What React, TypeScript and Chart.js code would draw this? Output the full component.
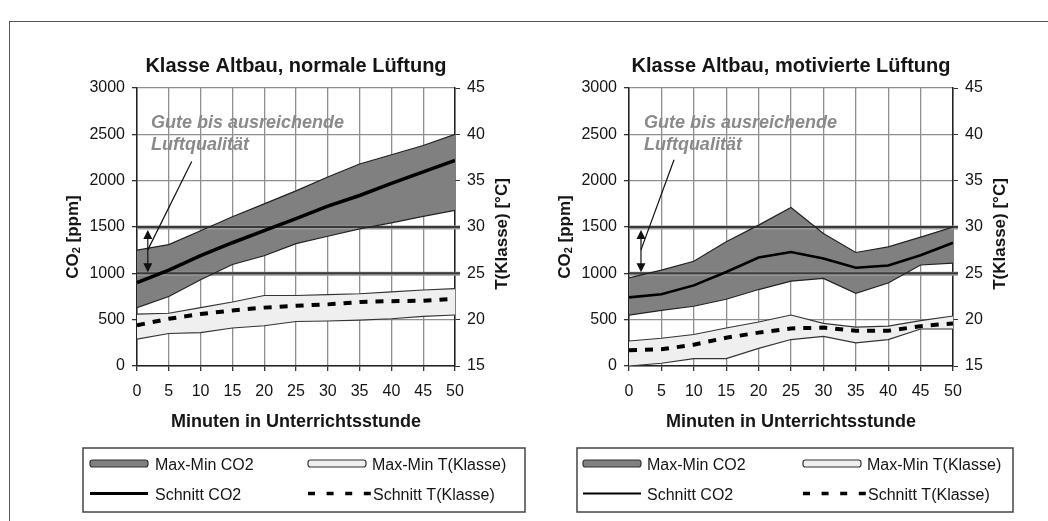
import React, { useEffect, useRef } from "react";
import { Chart, registerables } from "chart.js";

Chart.register(...registerables);

// ---------- data ----------
const minutes = [0, 5, 10, 15, 20, 25, 30, 35, 40, 45, 50];

// Klasse Altbau, normale Lüftung
const co2MaxNormal = [1250, 1310, 1460, 1610, 1750, 1890, 2040, 2180, 2280, 2380, 2500];
const co2MeanNormal = [900, 1035, 1190, 1330, 1460, 1590, 1725, 1840, 1970, 2095, 2220];
const co2MinNormal = [630, 750, 930, 1095, 1190, 1320, 1400, 1480, 1545, 1615, 1680];
const tMaxNormal = [20.6, 20.7, 21.3, 21.9, 22.6, 22.6, 22.7, 22.8, 23.0, 23.2, 23.35];
const tMinNormal = [17.9, 18.5, 18.6, 19.1, 19.35, 19.8, 19.85, 19.95, 20.1, 20.35, 20.5];
const tMeanNormal = [19.4, 20.1, 20.6, 21.0, 21.3, 21.5, 21.65, 21.9, 22.0, 22.05, 22.25];

// Klasse Altbau, motivierte Lüftung
const co2MaxMotiv = [950, 1035, 1130, 1340, 1520, 1710, 1430, 1225, 1285, 1390, 1500];
const co2MeanMotiv = [740, 775, 870, 1015, 1170, 1230, 1160, 1060, 1085, 1195, 1330];
const co2MinMotiv = [550, 600, 645, 720, 825, 915, 945, 785, 895, 1090, 1110];
const tMaxMotiv = [17.7, 18.0, 18.4, 19.1, 19.75, 20.5, 19.6, 19.2, 19.3, 19.9, 20.4];
const tMinMotiv = [15.0, 15.3, 15.8, 15.8, 16.9, 17.85, 18.2, 17.5, 17.85, 19.0, 19.0];
const tMeanMotiv = [16.7, 16.8, 17.3, 18.05, 18.6, 19.05, 19.15, 18.8, 18.8, 19.3, 19.6];

const co2Range = [0, 3000];
const co2Step = 500;
const tRange = [15, 45];
const tStep = 5;
const xRange = [0, 50];
const xStep = 5;
const qualityLimits = [1000, 1500];

const panelTitles = ["Klasse Altbau, normale Lüftung", "Klasse Altbau, motivierte Lüftung"];
const xAxisTitle = "Minuten in Unterrichtsstunde";
const co2AxisTitle = ["CO", "2", " [ppm]"];
const tAxisTitle = "T(Klasse) [°C]";
const noteLines = ["Gute bis ausreichende", "Luftqualität"];
const legendLabels = ["Max-Min CO2", "Max-Min T(Klasse)", "Schnitt CO2", "Schnitt T(Klasse)"];

// ---------- layout / style ----------
const W = 1048;
const H = 521;
const FONT = '"Liberation Sans", Arial, Helvetica, sans-serif';
const TEXT = "#151515";
const DARK_BAND = "#808080";
const LIGHT_BAND = "#efefef";

type PanelCfg = {
  key: string;
  left: number;
  width: number;
  padL: number;
  yW: number;
  y2W: number;
  padR: number;
  title: string;
  co2Max: number[];
  co2Mean: number[];
  co2Min: number[];
  tMax: number[];
  tMin: number[];
  tMean: number[];
  meanWidth: number;
  legendLineWidth: number;
  noteX: number;
  noteY: number[];
  leader: number[];
  arrowX: number;
  co2TitleX: number;
  tTitleX: number;
  legendBox: number[];
  sw1: number;
  tx1: number;
  sw2: number;
  tx2: number;
};

const panels: PanelCfg[] = [
  {
    key: "normal",
    left: 0,
    width: 540,
    padL: 64,
    yW: 73,
    y2W: 60,
    padR: 25,
    title: panelTitles[0],
    co2Max: co2MaxNormal,
    co2Mean: co2MeanNormal,
    co2Min: co2MinNormal,
    tMax: tMaxNormal,
    tMin: tMinNormal,
    tMean: tMeanNormal,
    meanWidth: 3.5,
    legendLineWidth: 3,
    noteX: 2.2,
    noteY: [2565, 2330],
    leader: [8.6, 2206, 1.7, 1253],
    arrowX: 1.7,
    co2TitleX: 73,
    tTitleX: 502,
    legendBox: [83, 448, 525, 512],
    sw1: 90,
    tx1: 155,
    sw2: 308,
    tx2: 372,
  },
  {
    key: "motiv",
    left: 540,
    width: 508,
    padL: 15,
    yW: 74,
    y2W: 60,
    padR: 35,
    title: panelTitles[1],
    co2Max: co2MaxMotiv,
    co2Mean: co2MeanMotiv,
    co2Min: co2MinMotiv,
    tMax: tMaxMotiv,
    tMin: tMinMotiv,
    tMean: tMeanMotiv,
    meanWidth: 2.6,
    legendLineWidth: 2,
    noteX: 2.3,
    noteY: [2565, 2330],
    leader: [6.95, 2225, 1.85, 1253],
    arrowX: 1.85,
    co2TitleX: 565,
    tTitleX: 1000,
    legendBox: [577, 448, 1013, 512],
    sw1: 583,
    tx1: 647,
    sw2: 803,
    tx2: 867,
  },
];

const pts = (ys: number[]) => minutes.map((x, i) => ({ x, y: ys[i] }));

function overlayPlugin(cfg: PanelCfg) {
  return {
    id: "overlay_" + cfg.key,
    beforeDatasetsDraw(chart: any) {
      const { ctx, chartArea: a, scales } = chart;
      const y = scales.y;
      ctx.save();
      for (const v of qualityLimits) {
        const py = y.getPixelForValue(v);
        ctx.strokeStyle = "#9a9a9a";
        ctx.lineWidth = 4;
        ctx.beginPath();
        ctx.moveTo(a.left, py + 0.5);
        ctx.lineTo(a.right + 5, py + 0.5);
        ctx.stroke();
        ctx.strokeStyle = "#3a3a3a";
        ctx.lineWidth = 2;
        ctx.beginPath();
        ctx.moveTo(a.left, py);
        ctx.lineTo(a.right + 5, py);
        ctx.stroke();
      }
      ctx.restore();
    },
    afterDatasetsDraw(chart: any) {
      const { ctx, scales } = chart;
      const x = scales.x;
      const y = scales.y;
      ctx.save();
      // note text
      ctx.font = `italic bold 18px ${FONT}`;
      ctx.fillStyle = "#8a8a8a";
      ctx.textAlign = "left";
      ctx.textBaseline = "alphabetic";
      noteLines.forEach((t, i) => {
        ctx.fillText(t, x.getPixelForValue(cfg.noteX), y.getPixelForValue(cfg.noteY[i]));
      });
      // leader line
      ctx.strokeStyle = "#111";
      ctx.lineWidth = 1.2;
      ctx.beginPath();
      ctx.moveTo(x.getPixelForValue(cfg.leader[0]), y.getPixelForValue(cfg.leader[1]));
      ctx.lineTo(x.getPixelForValue(cfg.leader[2]), y.getPixelForValue(cfg.leader[3]));
      ctx.stroke();
      // double arrow
      const ax = x.getPixelForValue(cfg.arrowX);
      const yTop = y.getPixelForValue(qualityLimits[1]);
      const yBot = y.getPixelForValue(qualityLimits[0]);
      ctx.beginPath();
      ctx.moveTo(ax, yTop + 6);
      ctx.lineTo(ax, yBot - 6);
      ctx.stroke();
      ctx.fillStyle = "#111";
      ctx.beginPath();
      ctx.moveTo(ax, yTop + 3);
      ctx.lineTo(ax - 4.5, yTop + 12);
      ctx.lineTo(ax + 4.5, yTop + 12);
      ctx.closePath();
      ctx.fill();
      ctx.beginPath();
      ctx.moveTo(ax, yBot - 1);
      ctx.lineTo(ax - 4.5, yBot - 10);
      ctx.lineTo(ax + 4.5, yBot - 10);
      ctx.closePath();
      ctx.fill();
      ctx.restore();
    },
    afterDraw(chart: any) {
      const { ctx, chartArea: a } = chart;
      const off = cfg.left;
      ctx.save();
      const midY = (a.top + a.bottom) / 2;
      // CO2 axis title with subscript
      {
        ctx.save();
        ctx.translate(cfg.co2TitleX - off, midY + 10);
        ctx.rotate(-Math.PI / 2);
        const big = `bold 17px ${FONT}`;
        const small = `bold 11px ${FONT}`;
        ctx.font = big;
        const w1 = ctx.measureText(co2AxisTitle[0]).width;
        const w3 = ctx.measureText(co2AxisTitle[2]).width;
        ctx.font = small;
        const w2 = ctx.measureText(co2AxisTitle[1]).width;
        const x0 = -(w1 + w2 + w3) / 2;
        ctx.fillStyle = TEXT;
        ctx.textAlign = "left";
        ctx.textBaseline = "middle";
        ctx.font = big;
        ctx.fillText(co2AxisTitle[0], x0, 0);
        ctx.font = small;
        ctx.fillText(co2AxisTitle[1], x0 + w1, 4);
        ctx.font = big;
        ctx.fillText(co2AxisTitle[2], x0 + w1 + w2, 0);
        ctx.restore();
      }
      // T axis title (reads bottom to top)
      {
        ctx.save();
        ctx.translate(cfg.tTitleX - off, midY + 7);
        ctx.rotate(-Math.PI / 2);
        ctx.font = `bold 17px ${FONT}`;
        ctx.fillStyle = TEXT;
        ctx.textAlign = "center";
        ctx.textBaseline = "middle";
        ctx.fillText(tAxisTitle, 0, 0);
        ctx.restore();
      }
      // legend
      const [bl, bt, br, bb] = cfg.legendBox;
      ctx.strokeStyle = "#444";
      ctx.lineWidth = 1.5;
      ctx.strokeRect(bl - off, bt, br - bl, bb - bt);
      const r1 = 463.5;
      const r2 = 493.5;
      const swW = 58;
      const drawBox = (sx: number, fill: string) => {
        const x0 = sx - off;
        const h = 7;
        const y0 = r1 - h / 2;
        const rr = 2.5;
        ctx.beginPath();
        ctx.moveTo(x0 + rr, y0);
        ctx.lineTo(x0 + swW - rr, y0);
        ctx.quadraticCurveTo(x0 + swW, y0, x0 + swW, y0 + rr);
        ctx.lineTo(x0 + swW, y0 + h - rr);
        ctx.quadraticCurveTo(x0 + swW, y0 + h, x0 + swW - rr, y0 + h);
        ctx.lineTo(x0 + rr, y0 + h);
        ctx.quadraticCurveTo(x0, y0 + h, x0, y0 + h - rr);
        ctx.lineTo(x0, y0 + rr);
        ctx.quadraticCurveTo(x0, y0, x0 + rr, y0);
        ctx.closePath();
        ctx.fillStyle = fill;
        ctx.fill();
        ctx.strokeStyle = "#333";
        ctx.lineWidth = 1.2;
        ctx.stroke();
      };
      drawBox(cfg.sw1, DARK_BAND);
      drawBox(cfg.sw2, LIGHT_BAND);
      ctx.strokeStyle = "#000";
      ctx.lineWidth = cfg.legendLineWidth;
      ctx.beginPath();
      ctx.moveTo(cfg.sw1 - off, r2);
      ctx.lineTo(cfg.sw1 - off + swW, r2);
      ctx.stroke();
      ctx.lineWidth = 3.5;
      ctx.setLineDash([7, 11.6]);
      ctx.beginPath();
      ctx.moveTo(cfg.sw2 - off, r2);
      ctx.lineTo(cfg.sw2 - off + 64, r2);
      ctx.stroke();
      ctx.setLineDash([]);
      ctx.font = `16px ${FONT}`;
      ctx.fillStyle = TEXT;
      ctx.textAlign = "left";
      ctx.textBaseline = "alphabetic";
      ctx.fillText(legendLabels[0], cfg.tx1 - off, r1 + 6);
      ctx.fillText(legendLabels[1], cfg.tx2 - off, r1 + 6);
      ctx.fillText(legendLabels[2], cfg.tx1 - off, r2 + 6);
      ctx.fillText(legendLabels[3], cfg.tx2 - off + 1, r2 + 6);
      ctx.restore();
    },
  };
}

function buildConfig(cfg: PanelCfg): any {
  const tickFont = { family: FONT, size: 16 };
  const gridColor = "#8e8e8e";
  const plain = (v: any) => String(v);
  return {
    type: "line",
    data: {
      datasets: [
        {
          label: legendLabels[2],
          data: pts(cfg.co2Mean),
          yAxisID: "y",
          borderColor: "#000",
          borderWidth: cfg.meanWidth,
          pointRadius: 0,
          tension: 0,
          fill: false,
        },
        {
          label: legendLabels[3],
          data: pts(cfg.tMean),
          yAxisID: "y2",
          borderColor: "#000",
          borderWidth: 4,
          borderDash: [8, 8],
          borderCapStyle: "butt",
          pointRadius: 0,
          tension: 0,
          fill: false,
        },
        {
          label: "Max CO2",
          data: pts(cfg.co2Max),
          yAxisID: "y",
          borderColor: "#222",
          borderWidth: 1.2,
          backgroundColor: DARK_BAND,
          pointRadius: 0,
          tension: 0,
          fill: "+1",
        },
        {
          label: "Min CO2",
          data: pts(cfg.co2Min),
          yAxisID: "y",
          borderColor: "#222",
          borderWidth: 1.2,
          pointRadius: 0,
          tension: 0,
          fill: false,
        },
        {
          label: "Max T",
          data: pts(cfg.tMax),
          yAxisID: "y2",
          borderColor: "#333",
          borderWidth: 1.1,
          backgroundColor: LIGHT_BAND,
          pointRadius: 0,
          tension: 0,
          fill: "+1",
        },
        {
          label: "Min T",
          data: pts(cfg.tMin),
          yAxisID: "y2",
          borderColor: "#333",
          borderWidth: 1.1,
          pointRadius: 0,
          tension: 0,
          fill: false,
        },
      ],
    },
    options: {
      animation: false,
      responsive: false,
      devicePixelRatio: 1,
      layout: { padding: { left: cfg.padL, right: cfg.padR, top: 0, bottom: H - 436 } },
      plugins: {
        legend: { display: false },
        tooltip: { enabled: false },
        filler: { drawTime: "beforeDatasetsDraw" },
        title: {
          display: true,
          text: cfg.title,
          fullSize: false,
          color: TEXT,
          font: { family: FONT, size: 20, weight: "bold" },
          padding: { top: 54, bottom: 10 },
        },
      },
      scales: {
        x: {
          type: "linear",
          min: xRange[0],
          max: xRange[1],
          ticks: { stepSize: xStep, font: tickFont, color: TEXT, padding: 11, maxRotation: 0, autoSkip: false, callback: plain },
          grid: { color: gridColor, lineWidth: 1.3, tickLength: 5, tickColor: "#333" },
          border: { color: "#222", width: 1.5 },
          title: {
            display: true,
            text: xAxisTitle,
            color: TEXT,
            font: { family: FONT, size: 18, weight: "bold" },
            padding: { top: 0, bottom: 3.5 },
          },
          afterFit: (s: any) => {
            s.height = 70;
          },
        },
        y: {
          position: "left",
          min: co2Range[0],
          max: co2Range[1],
          ticks: { stepSize: co2Step, font: tickFont, color: TEXT, padding: 7, callback: plain },
          grid: { color: gridColor, lineWidth: 1.3, tickLength: 5, tickColor: "#333" },
          border: { color: "#222", width: 1.5 },
          afterFit: (s: any) => {
            s.width = cfg.yW;
          },
        },
        y2: {
          position: "right",
          min: tRange[0],
          max: tRange[1],
          ticks: { stepSize: tStep, font: tickFont, color: TEXT, padding: 7, callback: plain },
          grid: { drawOnChartArea: false, tickLength: 5, tickColor: "#333", color: gridColor },
          border: { color: "#222", width: 1.5 },
          afterFit: (s: any) => {
            s.width = cfg.y2W;
          },
        },
      },
    },
    plugins: [overlayPlugin(cfg)],
  };
}

function Panel({ cfg }: { cfg: PanelCfg }) {
  const ref = useRef<HTMLCanvasElement>(null);
  useEffect(() => {
    const chart = new Chart(ref.current as HTMLCanvasElement, buildConfig(cfg));
    return () => chart.destroy();
  }, [cfg]);
  return (
    <canvas
      ref={ref}
      width={cfg.width}
      height={H}
      style={{ position: "absolute", left: cfg.left, top: 0, width: cfg.width, height: H }}
    />
  );
}

export default function App() {
  return (
    <div
      style={{
        position: "fixed",
        left: 0,
        top: 0,
        width: W,
        height: H,
        background: "#fff",
        overflow: "hidden",
      }}
    >
      <div
        style={{
          position: "absolute",
          left: 9,
          top: 21,
          width: W,
          height: H,
          borderTop: "1.5px solid #555",
          borderLeft: "1.5px solid #555",
        }}
      />
      {panels.map((p) => (
        <Panel key={p.key} cfg={p} />
      ))}
    </div>
  );
}
